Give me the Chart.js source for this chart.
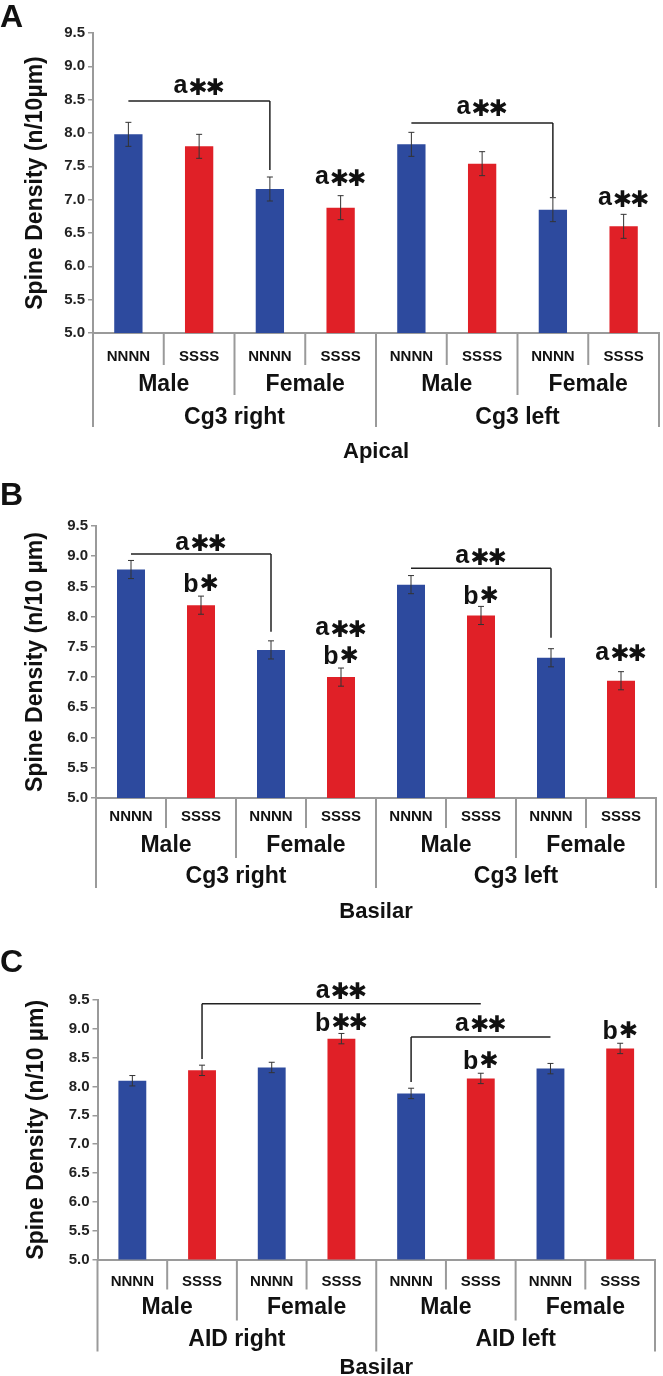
<!DOCTYPE html>
<html lang="en">
<head>
  <meta charset="UTF-8" />
  <title>Spine Density</title>
  <script src="https://cdn.jsdelivr.net/npm/chart.js"></script>
  <style>
    body { margin: 0; background: #fff; width: 663px; height: 1376px; position: relative; overflow: hidden; }
    canvas { position: absolute; left: 0; }
  </style>
</head>
<body>
  <canvas id="chartA" width="663" height="465" style="top:0px"></canvas>
  <canvas id="chartB" width="663" height="460" style="top:465px"></canvas>
  <canvas id="chartC" width="663" height="451" style="top:925px"></canvas>

  <script>
    // categories
    const conditions = ["NNNN", "SSSS", "NNNN", "SSSS", "NNNN", "SSSS", "NNNN", "SSSS"];
    const sexes = ["Male", "Female", "Male", "Female"];
    const cg3Regions = ["Cg3 right", "Cg3 left"];
    const aidRegions = ["AID right", "AID left"];
    const yTickValues = [5.0, 5.5, 6.0, 6.5, 7.0, 7.5, 8.0, 8.5, 9.0, 9.5];

    // A: apical Cg3
    const apicalCg3 = [7.98, 7.80, 7.16, 6.88, 7.83, 7.54, 6.85, 6.60];
    const apicalCg3Err = [0.18, 0.18, 0.18, 0.18, 0.18, 0.18, 0.18, 0.18];
    // B: basilar Cg3
    const basilarCg3 = [8.78, 8.19, 7.45, 7.00, 8.53, 8.02, 7.32, 6.94];
    const basilarCg3Err = [0.15, 0.15, 0.15, 0.15, 0.15, 0.15, 0.15, 0.15];
    // C: basilar AID
    const basilarAid = [8.10, 8.28, 8.33, 8.83, 7.88, 8.14, 8.31, 8.66];
    const basilarAidErr = [0.09, 0.09, 0.09, 0.09, 0.09, 0.09, 0.09, 0.09];

    const barColors = ["#2d4a9e", "#e02027", "#2d4a9e", "#e02027", "#2d4a9e", "#e02027", "#2d4a9e", "#e02027"];
    const AXIS = "#9a9a9a";
    const FONT = "'Liberation Sans', Arial, sans-serif";

    // draws "a**" style marks, asterisks as heavy glyphs
    function drawSig(ctx, text, cx, cy) {
      const parts = text.split("").map(ch => ch === "*"
        ? { t: "\u2731", f: "bold 23px 'DejaVu Sans'", gap: -2 }
        : { t: ch, f: "bold 25px " + FONT, gap: 1 });
      let total = 0;
      parts.forEach(p => {
        ctx.font = p.f;
        const m = ctx.measureText(p.t);
        p.w = m.width;
        p.asc = m.actualBoundingBoxAscent;
        p.desc = m.actualBoundingBoxDescent;
        total += p.w + p.gap;
      });
      total -= parts[parts.length - 1].gap;
      let x = cx - total / 2;
      ctx.textAlign = "left";
      ctx.textBaseline = "alphabetic";
      ctx.fillStyle = "#111";
      parts.forEach(p => {
        ctx.font = p.f;
        ctx.fillText(p.t, x, cy + (p.asc - p.desc) / 2);
        x += p.w + p.gap;
      });
    }

    function decor(cfg) {
      return {
        id: "decor",
        afterDatasetsDraw(chart) {
          const ctx = chart.ctx, y = chart.scales.y;
          const meta = chart.getDatasetMeta(0);
          ctx.save();
          ctx.strokeStyle = "#333";
          ctx.lineWidth = 1;
          meta.data.forEach((bar, i) => {
            const top = y.getPixelForValue(cfg.values[i] + cfg.errs[i]);
            const bot = y.getPixelForValue(cfg.values[i] - cfg.errs[i]);
            ctx.beginPath();
            ctx.moveTo(bar.x, top); ctx.lineTo(bar.x, bot);
            ctx.moveTo(bar.x - 3, top); ctx.lineTo(bar.x + 3, top);
            ctx.moveTo(bar.x - 3, bot); ctx.lineTo(bar.x + 3, bot);
            ctx.stroke();
          });
          ctx.restore();
        },
        afterDraw(chart) {
          const ctx = chart.ctx, xs = chart.scales.x, y = chart.scales.y;
          const base = chart.chartArea.bottom;
          const n = conditions.length;
          const cx = i => xs.getPixelForValue(i);
          const edge = k => k === 0 ? xs.left : k === n ? xs.right : (cx(k - 1) + cx(k)) / 2;
          ctx.save();

          // category dividers
          ctx.strokeStyle = AXIS;
          ctx.lineWidth = 2;
          for (let k = 0; k <= n; k++) {
            const len = (k % 4 === 0) ? cfg.divs[2] : (k % 2 === 0) ? cfg.divs[1] : cfg.divs[0];
            ctx.beginPath();
            ctx.moveTo(edge(k), base);
            ctx.lineTo(edge(k), base + len);
            ctx.stroke();
          }

          // category labels
          ctx.fillStyle = "#111";
          ctx.textAlign = "center";
          ctx.textBaseline = "middle";
          ctx.font = "bold 15px " + FONT;
          conditions.forEach((c, i) => ctx.fillText(c, cx(i), base + cfg.rows[0]));
          ctx.font = "bold 23px " + FONT;
          sexes.forEach((s, i) => ctx.fillText(s, (edge(i * 2) + edge(i * 2 + 2)) / 2, base + cfg.rows[1]));
          ctx.font = "bold 23px " + FONT;
          cfg.regions.forEach((r, i) => ctx.fillText(r, (edge(i * 4) + edge(i * 4 + 4)) / 2, base + cfg.rows[2]));
          ctx.font = "bold 22px " + FONT;
          ctx.fillText(cfg.group, (xs.left + xs.right) / 2, base + cfg.rows[3]);

          // panel letter
          ctx.textAlign = "left";
          ctx.textBaseline = "alphabetic";
          ctx.font = "bold 32px " + FONT;
          ctx.fillText(cfg.letter, 0, cfg.letterY);

          // brackets
          ctx.strokeStyle = "#222";
          ctx.lineWidth = 1.5;
          cfg.brackets.forEach(b => {
            const yy = y.getPixelForValue(b.at);
            const dx = cx(b.drop === "to" ? b.to : b.from);
            ctx.beginPath();
            ctx.moveTo(cx(b.from), yy);
            ctx.lineTo(cx(b.to), yy);
            ctx.moveTo(dx, yy);
            ctx.lineTo(dx, y.getPixelForValue(b.dropTo));
            ctx.stroke();
            drawSig(ctx, b.text, (cx(b.from) + cx(b.to)) / 2, y.getPixelForValue(b.textAt));
          });
          cfg.marks.forEach(m => drawSig(ctx, m.text, cx(m.bar), y.getPixelForValue(m.at)));
          ctx.restore();
        }
      };
    }

    function makeChart(id, cfg) {
      const canvas = document.getElementById(id);
      return new Chart(canvas.getContext("2d"), {
        type: "bar",
        data: {
          labels: conditions,
          datasets: [{
            data: cfg.values,
            backgroundColor: barColors,
            borderWidth: 0,
            barPercentage: 0.4,
            categoryPercentage: 1.0
          }]
        },
        options: {
          responsive: false,
          animation: false,
          events: [],
          layout: { padding: { top: cfg.top, right: canvas.width - cfg.right, bottom: 0, left: 0 } },
          plugins: { legend: { display: false }, tooltip: { enabled: false } },
          scales: {
            x: {
              offset: true,
              grid: { display: false },
              border: { color: AXIS, width: 2 },
              ticks: { display: false },
              afterFit: s => { s.height = canvas.height - cfg.bottom; }
            },
            y: {
              min: 5,
              max: 9.5,
              afterBuildTicks: s => { s.ticks = yTickValues.map(v => ({ value: v })); },
              ticks: {
                callback: v => Number(v).toFixed(1),
                color: "#222",
                padding: 3,
                font: { family: FONT, size: 15, weight: "bold" }
              },
              grid: { drawOnChartArea: false, tickLength: 5, color: AXIS, lineWidth: 1.5 },
              border: { color: AXIS, width: 2 },
              title: {
                display: true,
                text: cfg.yTitle,
                color: "#111",
                padding: { top: cfg.titlePad, bottom: 0 },
                font: { family: FONT, size: 23, weight: "bold" }
              },
              afterFit: s => { s.width = cfg.left; }
            }
          }
        },
        plugins: [decor(cfg)]
      });
    }

    makeChart("chartA", {
      values: apicalCg3, errs: apicalCg3Err,
      top: 33, bottom: 333, left: 93, right: 659,
      rows: [24, 52, 85, 119], divs: [32, 62, 94],
      regions: cg3Regions, group: "Apical",
      letter: "A", letterY: 27, titlePad: 22,
      yTitle: "Spine Density (n/10\u00b5m)",
      brackets: [
        { from: 0, to: 2, at: 8.48, drop: "to", dropTo: 7.445, text: "a**", textAt: 8.70 },
        { from: 4, to: 6, at: 8.15, drop: "to", dropTo: 7.04, text: "a**", textAt: 8.39 }
      ],
      marks: [
        { bar: 3, at: 7.34, text: "a**" },
        { bar: 7, at: 7.025, text: "a**" }
      ]
    });

    makeChart("chartB", {
      values: basilarCg3, errs: basilarCg3Err,
      top: 61, bottom: 333, left: 96, right: 656,
      rows: [19, 48, 79, 114], divs: [30, 60, 90],
      regions: cg3Regions, group: "Basilar",
      letter: "B", letterY: 40, titlePad: 22,
      yTitle: "Spine Density (n/10 \u00b5m)",
      brackets: [
        { from: 0, to: 2, at: 9.035, drop: "to", dropTo: 7.75, text: "a**", textAt: 9.22 },
        { from: 4, to: 6, at: 8.80, drop: "to", dropTo: 7.65, text: "a**", textAt: 9.0 }
      ],
      marks: [
        { bar: 1, at: 8.56, text: "b*" },
        { bar: 5, at: 8.36, text: "b*" },
        { bar: 3, at: 7.81, text: "a**" },
        { bar: 3, at: 7.37, text: "b*" },
        { bar: 7, at: 7.40, text: "a**" }
      ]
    });

    makeChart("chartC", {
      values: basilarAid, errs: basilarAidErr,
      top: 75, bottom: 334.5, left: 97.5, right: 655,
      rows: [22, 48, 80, 108], divs: [30, 61, 92],
      regions: aidRegions, group: "Basilar",
      letter: "C", letterY: 47, titlePad: 23,
      yTitle: "Spine Density (n/10 \u00b5m)",
      brackets: [
        { from: 1, to: 5, at: 9.436, drop: "from", dropTo: 8.476, text: "a**", textAt: 9.66 },
        { from: 4, to: 6, at: 8.86, drop: "from", dropTo: 8.08, text: "a**", textAt: 9.09 }
      ],
      marks: [
        { bar: 3, at: 9.13, text: "b**" },
        { bar: 5, at: 8.46, text: "b*" },
        { bar: 7, at: 8.98, text: "b*" }
      ]
    });
  </script>
</body>
</html>
